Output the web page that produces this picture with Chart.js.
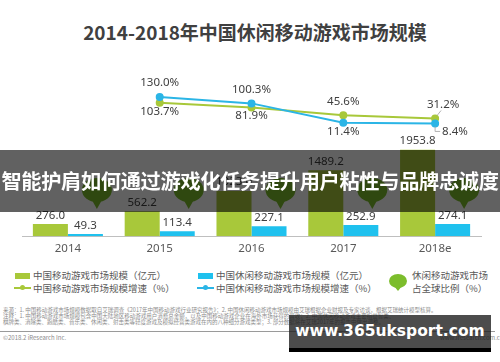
<!DOCTYPE html>
<html>
<head>
<meta charset="utf-8">
<script src="https://cdn.jsdelivr.net/npm/chart.js@4.4.0/dist/chart.umd.min.js"></script>
<style>
body{margin:0;width:500px;height:362px;position:relative;overflow:hidden;background:#fff;font-family:"Noto Sans CJK SC","Noto Sans",sans-serif;}
#title{position:absolute;left:0;top:18px;width:510px;text-align:center;font-size:19px;font-weight:bold;color:#404040;}
#wrap{position:absolute;left:0;top:0;width:500px;height:262px;}
.lg{position:absolute;font-size:9.5px;color:#595959;white-space:nowrap;line-height:12px;}
.sw{position:absolute;}
.note{position:absolute;left:3px;font-size:5.5px;color:#8c8c8c;white-space:nowrap;line-height:6px;}
#band{position:absolute;left:0;top:150px;width:500px;height:62px;background:rgba(0,0,0,0.62);}
#band div{position:absolute;left:0;top:18px;width:500px;text-align:center;font-size:20.2px;font-weight:bold;color:#fff;white-space:nowrap;line-height:26px;letter-spacing:-0.3px;}
#wm{position:absolute;left:289px;top:315px;width:202px;height:37px;background:rgba(25,25,25,0.78);border-bottom:4px solid #000;box-sizing:border-box;}
#wm div{position:absolute;left:0;top:7px;width:202px;text-align:center;font-family:"DejaVu Sans",sans-serif;font-weight:bold;font-size:15.5px;color:#fff;}
</style>
</head>
<body>
<div id="title">2014-2018年中国休闲移动游戏市场规模</div>
<div id="wrap"><canvas id="c"></canvas></div>

<!-- legend -->
<div class="sw" style="left:15px;top:273px;width:15px;height:6px;background:#a8c83a"></div>
<div class="lg" style="left:33px;top:269px">中国移动游戏市场规模（亿元）</div>
<div class="sw" style="left:198px;top:273px;width:15px;height:6px;background:#1fc1ee"></div>
<div class="lg" style="left:216px;top:269px">中国休闲移动游戏市场规模（亿元）</div>
<div class="sw" style="left:14px;top:287px;width:17px;height:2px;background:#a8c83a"></div>
<div class="sw" style="left:20px;top:285px;width:5px;height:5px;border-radius:50%;background:#a8c83a"></div>
<div class="lg" style="left:33px;top:282px">中国移动游戏市场规模增速（%）</div>
<div class="sw" style="left:197px;top:287px;width:17px;height:2px;background:#2bb5e6"></div>
<div class="sw" style="left:203px;top:285px;width:5px;height:5px;border-radius:50%;background:#2bb5e6"></div>
<div class="lg" style="left:216px;top:282px">中国休闲移动游戏市场规模增速（%）</div>
<div class="sw" style="left:389px;top:274px;width:18px;height:14px;border-radius:50%;background:#7cbd2c"></div>
<div class="sw" style="left:394px;top:286px;width:0;height:0;border-left:4px solid transparent;border-right:4px solid transparent;border-top:5px solid #7cbd2c"></div>
<div class="lg" style="left:412px;top:269px">休闲移动游戏市场</div>
<div class="lg" style="left:412px;top:282px">占全球比例（%）</div>

<!-- notes -->
<div class="note" style="top:307px">来源：1. 中国移动游戏市场规模数据取自艾瑞调查《2017年中国移动游戏行业研究报告》；2. 中国休闲移动游戏市场规模由艾瑞根据企业财报及专家访谈，根据艾瑞统计模型核算。</div>
<div class="note" style="top:313px">注释：1. 中国移动游戏市场规模包含中国大陆地区移动游戏用户消费总金额，以及中国移动游戏企业在海外市场获得的营收；2. 中国休闲移动游戏主要指益智类、</div>
<div class="note" style="top:319px">棋牌类、消除类、跑酷类、音乐类、休闲类、射击类等轻度游戏及模拟经营类游戏在内的八种细分游戏类型；3. 部分数据将在艾瑞2017年的报告中做出调整。</div>
<div class="sw" style="left:0;top:331px;width:495px;height:1px;background:#9a9a9a"></div>
<div class="note" style="top:335px;font-size:6px">©2018.2 iResearch Inc.</div>
<div class="note" style="top:335px;left:440px;font-size:6px">www.iresearch.com.cn</div>

<div id="band"><div>智能护肩如何通过游戏化任务提升用户粘性与品牌忠诚度</div></div>
<div id="wm"><div>www.365uksport.com</div></div>

<script>
const years = ['2014', '2015', '2016', '2017', '2018e'];
const mobileMarket = [276.0, 562.2, 1023.0, 1489.2, 1953.8];     // 亿元
const casualMarket = [49.3, 113.4, 227.1, 252.9, 274.1];         // 亿元
const mobileGrowth = [null, 103.7, 81.9, 45.6, 31.2];            // %
const casualGrowth = [null, 130.0, 100.3, 11.4, 8.4];            // %

const green = '#a8c83a';
const blue = '#1fc1ee';
const lineBlue = '#2bb5e6';

// where each growth label sits relative to its point
const mobileLabelPos = [null, 'below', 'below', 'above', 'aboveRight'];
const casualLabelPos = [null, 'above', 'above', 'below', 'right'];

const valueLabels = {
    id: 'valueLabels',
    afterDatasetsDraw(chart) {
        const c = chart.ctx;
        c.save();
        c.fillStyle = '#404040';
        c.font = '11.5px "Noto Sans", sans-serif';
        c.textAlign = 'center';
        c.textBaseline = 'bottom';
        [0, 1].forEach(di => {
            chart.getDatasetMeta(di).data.forEach((bar, i) => {
                c.fillText(chart.data.datasets[di].data[i].toFixed(1), bar.x, bar.y - 3);
            });
        });
        const drawLine = (di, pos) => {
            chart.getDatasetMeta(di).data.forEach((pt, i) => {
                const v = chart.data.datasets[di].data[i];
                if (v == null) return;
                const txt = v.toFixed(1) + '%';
                const p = pos[i];
                c.strokeStyle = '#a0a0a0';
                c.lineWidth = 0.8;
                if (p == 'above') {
                    c.textAlign = 'center'; c.textBaseline = 'bottom';
                    c.fillText(txt, pt.x, pt.y - 8);
                } else if (p == 'below') {
                    c.textAlign = 'center'; c.textBaseline = 'top';
                    c.fillText(txt, pt.x, pt.y + 3);
                } else if (p == 'aboveRight') {
                    c.beginPath(); c.moveTo(pt.x + 2, pt.y - 3); c.lineTo(pt.x + 6, pt.y - 8); c.stroke();
                    c.textAlign = 'center'; c.textBaseline = 'bottom';
                    c.fillText(txt, pt.x + 8, pt.y - 8);
                } else if (p == 'right') {
                    c.beginPath(); c.moveTo(pt.x, pt.y + 3); c.lineTo(pt.x, pt.y + 8); c.lineTo(pt.x + 5, pt.y + 8); c.stroke();
                    c.textAlign = 'left'; c.textBaseline = 'middle';
                    c.fillText(txt, pt.x + 7, pt.y + 8);
                }
            });
        };
        drawLine(2, mobileLabelPos);
        drawLine(3, casualLabelPos);
        c.restore();
    }
};

// speech bubbles for "占全球比例" (values covered in the picture)
const bubbles = {
    id: 'bubbles',
    beforeDatasetsDraw(chart) {
        const c = chart.ctx;
        const xs = chart.scales.x;
        const cy = chart.chartArea.top + 130;
        c.save();
        c.fillStyle = '#7cbd2c';
        years.forEach((y, i) => {
            const cx = xs.getPixelForValue(i) + 29;
            c.beginPath();
            c.ellipse(cx, cy, 15, 12, 0, 0, Math.PI * 2);
            c.fill();
            c.beginPath();
            c.moveTo(cx - 5, cy + 10);
            c.lineTo(cx, cy + 19);
            c.lineTo(cx + 5, cy + 10);
            c.fill();
        });
        c.restore();
    }
};

new Chart(document.getElementById('c'), {
    type: 'bar',
    data: {
        labels: years,
        datasets: [
            {label: '中国移动游戏市场规模（亿元）', data: mobileMarket, backgroundColor: green, yAxisID: 'y', order: 2},
            {label: '中国休闲移动游戏市场规模（亿元）', data: casualMarket, backgroundColor: blue, yAxisID: 'y', order: 2},
            {type: 'line', label: '中国移动游戏市场规模增速（%）', data: mobileGrowth, borderColor: green, backgroundColor: green,
             borderWidth: 2, pointRadius: 3, yAxisID: 'y1', order: 1},
            {type: 'line', label: '中国休闲移动游戏市场规模增速（%）', data: casualGrowth, borderColor: lineBlue, backgroundColor: lineBlue,
             borderWidth: 2, pointRadius: 3, yAxisID: 'y1', order: 0}
        ]
    },
    options: {
        responsive: true,
        maintainAspectRatio: false,
        animation: false,
        layout: {padding: {left: 22, right: 19, top: 60, bottom: 0}},
        datasets: {bar: {categoryPercentage: 0.763, barPercentage: 1}},
        plugins: {legend: {display: false}, tooltip: {enabled: false}},
        scales: {
            x: {
                grid: {display: false, drawTicks: false},
                border: {display: true, color: '#bfbfbf', width: 1},
                ticks: {color: '#595959', font: {size: 11.5, family: '"Noto Sans", sans-serif'}, padding: 6}
            },
            y: {display: false, min: 0, max: 3982},
            y1: {display: false, min: -508, max: 299}
        }
    },
    plugins: [bubbles, valueLabels]
});
</script>
</body>
</html>
